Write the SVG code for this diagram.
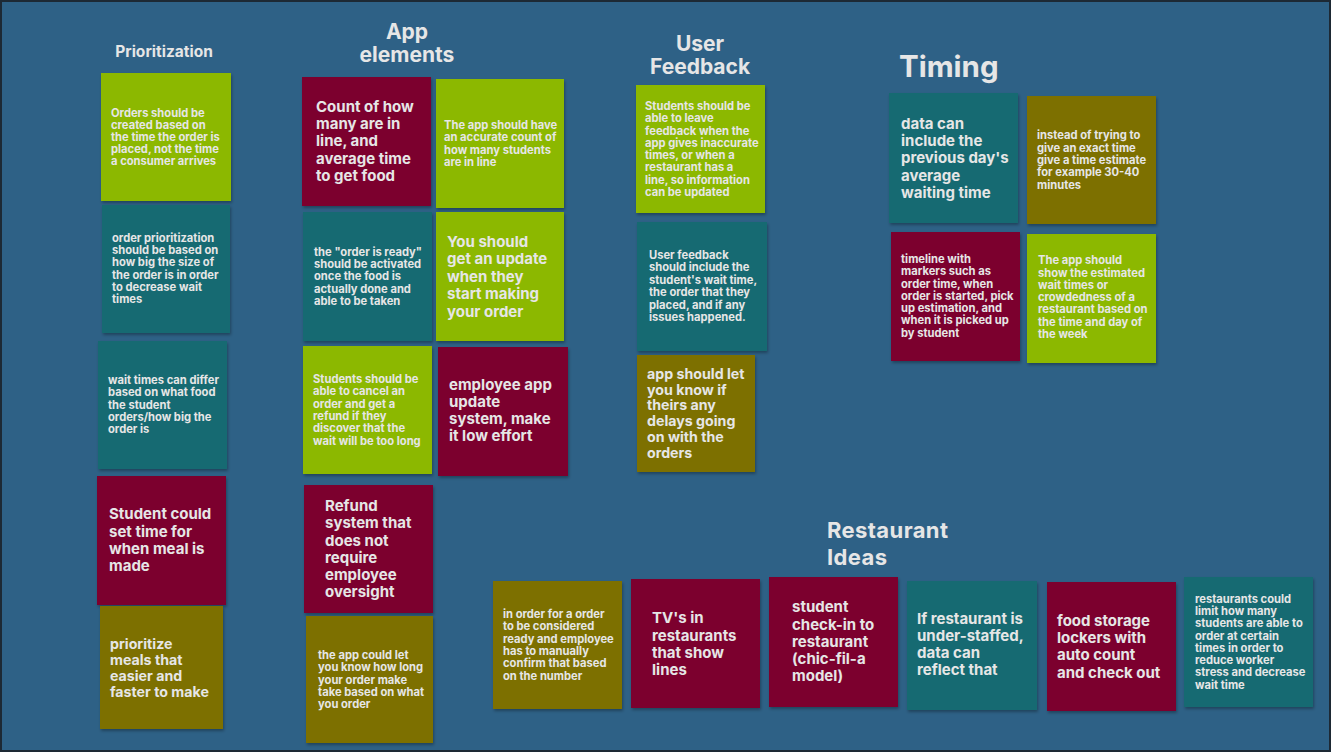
<svg xmlns="http://www.w3.org/2000/svg" width="1331" height="752" viewBox="0 0 1331 752">
<defs>
<filter id="sh" x="-10%" y="-10%" width="125%" height="125%">
<feDropShadow dx="1" dy="2" stdDeviation="1.6" flood-color="#000" flood-opacity="0.3"/>
</filter>
<style>
text{font-family:Inter,"Liberation Sans",sans-serif;font-weight:700;fill:#e6e6e6}
.g{fill:#8cb800}
.t{fill:#166a72}
.m{fill:#7b002e}
.o{fill:#7d7000}
rect.n{filter:url(#sh)}
.s{font-size:11.2px}
.l{font-size:15px}
.ttl{font-size:21px}
.ttc{text-anchor:middle}
</style>
</defs>
<rect x="0" y="0" width="1331" height="752" fill="#2e6186" stroke="#1d2934" stroke-width="4"/>
<g id="connectors"/>
<g id="titles">
<text class="ttc" x="164" y="57" style="font-size:15.5px">Prioritization</text>
<text class="ttl ttc"><tspan x="407" y="39">App</tspan><tspan x="407" y="62">elements</tspan></text>
<text class="ttl ttc"><tspan x="700" y="51">User</tspan><tspan x="700" y="74">Feedback</tspan></text>
<text x="899" y="77" style="font-size:29.5px">Timing</text>
<text class="ttl" style="font-size:22px;letter-spacing:0.4px"><tspan x="827" y="538">Restaurant</tspan><tspan x="827" y="565">Ideas</tspan></text>
</g>
<g id="n1"><rect class="n g" x="101" y="73" width="130" height="128"/>
<text class="s"><tspan x="111" y="117">Orders should be</tspan><tspan x="111" y="129">created based on</tspan><tspan x="111" y="141">the time the order is</tspan><tspan x="111" y="153">placed, not the time</tspan><tspan x="111" y="165">a consumer arrives</tspan></text></g>
<g id="n2"><rect class="n t" x="102" y="205" width="128" height="128"/>
<text class="s"><tspan x="112" y="242">order prioritization</tspan><tspan x="112" y="254">should be based on</tspan><tspan x="112" y="266">how big the size of</tspan><tspan x="112" y="279">the order is in order</tspan><tspan x="112" y="291">to decrease wait</tspan><tspan x="112" y="303">times</tspan></text></g>
<g id="n3"><rect class="n t" x="98" y="341" width="129" height="128"/>
<text class="s"><tspan x="108" y="384">wait times can differ</tspan><tspan x="108" y="396">based on what food</tspan><tspan x="108" y="409">the student</tspan><tspan x="108" y="421">orders/how big the</tspan><tspan x="108" y="433">order is</tspan></text></g>
<g id="n4"><rect class="n m" x="97" y="476" width="129" height="129"/>
<text class="l"><tspan x="109" y="519">Student could</tspan><tspan x="109" y="537">set time for</tspan><tspan x="109" y="554">when meal is</tspan><tspan x="109" y="571">made</tspan></text></g>
<g id="n5"><rect class="n o" x="100" y="606" width="123" height="123"/>
<text class="l" style="font-size:14.2px"><tspan x="110" y="649">prioritize</tspan><tspan x="110" y="665">meals that</tspan><tspan x="110" y="681">easier and</tspan><tspan x="110" y="697">faster to make</tspan></text></g>
<g id="n6"><rect class="n m" x="302" y="77" width="129" height="129"/>
<text class="l"><tspan x="316" y="112">Count of how</tspan><tspan x="316" y="129">many are in</tspan><tspan x="316" y="146">line, and</tspan><tspan x="316" y="164">average time</tspan><tspan x="316" y="181">to get food</tspan></text></g>
<g id="n7"><rect class="n g" x="436" y="79" width="128" height="129"/>
<text class="s"><tspan x="444" y="129">The app should have</tspan><tspan x="444" y="141">an accurate count of</tspan><tspan x="444" y="154">how many students</tspan><tspan x="444" y="166">are in line</tspan></text></g>
<g id="n8"><rect class="n t" x="303" y="212" width="129" height="129"/>
<text class="s"><tspan x="314" y="256">the "order is ready"</tspan><tspan x="314" y="268">should be activated</tspan><tspan x="314" y="280">once the food is</tspan><tspan x="314" y="293">actually done and</tspan><tspan x="314" y="305">able to be taken</tspan></text></g>
<g id="n9"><rect class="n g" x="436" y="212" width="128" height="129"/>
<text class="l"><tspan x="447" y="247">You should</tspan><tspan x="447" y="264">get an update</tspan><tspan x="447" y="282">when they</tspan><tspan x="447" y="299">start making</tspan><tspan x="447" y="317">your order</tspan></text></g>
<g id="n10"><rect class="n g" x="303" y="346" width="129" height="128"/>
<text class="s"><tspan x="313" y="383">Students should be</tspan><tspan x="313" y="395">able to cancel an</tspan><tspan x="313" y="408">order and get a</tspan><tspan x="313" y="420">refund if they</tspan><tspan x="313" y="432">discover that the</tspan><tspan x="313" y="445">wait will be too long</tspan></text></g>
<g id="n11"><rect class="n m" x="438" y="347" width="130" height="129"/>
<text class="l"><tspan x="449" y="390">employee app</tspan><tspan x="449" y="407">update</tspan><tspan x="449" y="424">system, make</tspan><tspan x="449" y="441">it low effort</tspan></text></g>
<g id="n12"><rect class="n m" x="304" y="485" width="129" height="128"/>
<text class="l"><tspan x="325" y="511">Refund</tspan><tspan x="325" y="528">system that</tspan><tspan x="325" y="546">does not</tspan><tspan x="325" y="563">require</tspan><tspan x="325" y="580">employee</tspan><tspan x="325" y="597">oversight</tspan></text></g>
<g id="n13"><rect class="n o" x="306" y="616" width="127" height="127"/>
<text class="s"><tspan x="318" y="659">the app could let</tspan><tspan x="318" y="671">you know how long</tspan><tspan x="318" y="684">your order make</tspan><tspan x="318" y="696">take based on what</tspan><tspan x="318" y="708">you order</tspan></text></g>
<g id="n14"><rect class="n g" x="636" y="85" width="129" height="128"/>
<text class="s"><tspan x="645" y="110">Students should be</tspan><tspan x="645" y="122">able to leave</tspan><tspan x="645" y="135">feedback when the</tspan><tspan x="645" y="147">app gives inaccurate</tspan><tspan x="645" y="159">times, or when a</tspan><tspan x="645" y="171">restaurant has a</tspan><tspan x="645" y="184">line, so information</tspan><tspan x="645" y="196">can be updated</tspan></text></g>
<g id="n15"><rect class="n t" x="637" y="222" width="130" height="129"/>
<text class="s"><tspan x="649" y="259">User feedback</tspan><tspan x="649" y="271">should include the</tspan><tspan x="649" y="284">student's wait time,</tspan><tspan x="649" y="296">the order that they</tspan><tspan x="649" y="309">placed, and if any</tspan><tspan x="649" y="321">issues happened.</tspan></text></g>
<g id="n16"><rect class="n o" x="637" y="355" width="118" height="117"/>
<text class="l" style="font-size:14.2px"><tspan x="647" y="379">app should let</tspan><tspan x="647" y="395">you know if</tspan><tspan x="647" y="410">theirs any</tspan><tspan x="647" y="426">delays going</tspan><tspan x="647" y="442">on with the</tspan><tspan x="647" y="458">orders</tspan></text></g>
<g id="n17"><rect class="n t" x="889" y="93" width="129" height="130"/>
<text class="l"><tspan x="901" y="129">data can</tspan><tspan x="901" y="146">include the</tspan><tspan x="901" y="163">previous day's</tspan><tspan x="901" y="181">average</tspan><tspan x="901" y="198">waiting time</tspan></text></g>
<g id="n18"><rect class="n o" x="1027" y="96" width="129" height="128"/>
<text class="s"><tspan x="1037" y="139">instead of trying to</tspan><tspan x="1037" y="152">give an exact time</tspan><tspan x="1037" y="164">give a time estimate</tspan><tspan x="1037" y="176">for example 30-40</tspan><tspan x="1037" y="189">minutes</tspan></text></g>
<g id="n19"><rect class="n m" x="891" y="232" width="129" height="129"/>
<text class="s"><tspan x="901" y="263">timeline with</tspan><tspan x="901" y="275">markers such as</tspan><tspan x="901" y="288">order time, when</tspan><tspan x="901" y="300">order is started, pick</tspan><tspan x="901" y="312">up estimation, and</tspan><tspan x="901" y="324">when it is picked up</tspan><tspan x="901" y="337">by student</tspan></text></g>
<g id="n20"><rect class="n g" x="1027" y="234" width="129" height="129"/>
<text class="s"><tspan x="1038" y="264">The app should</tspan><tspan x="1038" y="277">show the estimated</tspan><tspan x="1038" y="289">wait times or</tspan><tspan x="1038" y="301">crowdedness of a</tspan><tspan x="1038" y="313">restaurant based on</tspan><tspan x="1038" y="326">the time and day of</tspan><tspan x="1038" y="338">the week</tspan></text></g>
<g id="n21"><rect class="n o" x="493" y="581" width="129" height="128"/>
<text class="s"><tspan x="503" y="618">in order for a order</tspan><tspan x="503" y="630">to be considered</tspan><tspan x="503" y="643">ready and employee</tspan><tspan x="503" y="655">has to manually</tspan><tspan x="503" y="667">confirm that based</tspan><tspan x="503" y="680">on the number</tspan></text></g>
<g id="n22"><rect class="n m" x="631" y="579" width="129" height="129"/>
<text class="l"><tspan x="652" y="623">TV's in</tspan><tspan x="652" y="641">restaurants</tspan><tspan x="652" y="658">that show</tspan><tspan x="652" y="675">lines</tspan></text></g>
<g id="n23"><rect class="n m" x="769" y="577" width="129" height="130"/>
<text class="l"><tspan x="792" y="612">student</tspan><tspan x="792" y="630">check-in to</tspan><tspan x="792" y="647">restaurant</tspan><tspan x="792" y="664">(chic-fil-a</tspan><tspan x="792" y="681">model)</tspan></text></g>
<g id="n24"><rect class="n t" x="907" y="581" width="130" height="129"/>
<text class="l"><tspan x="917" y="624">If restaurant is</tspan><tspan x="917" y="641">under-staffed,</tspan><tspan x="917" y="658">data can</tspan><tspan x="917" y="675">reflect that</tspan></text></g>
<g id="n25"><rect class="n m" x="1047" y="582" width="129" height="129"/>
<text class="l"><tspan x="1057" y="626">food storage</tspan><tspan x="1057" y="643">lockers with</tspan><tspan x="1057" y="660">auto count</tspan><tspan x="1057" y="678">and check out</tspan></text></g>
<g id="n26"><rect class="n t" x="1184" y="577" width="129" height="130"/>
<text class="s"><tspan x="1195" y="603">restaurants could</tspan><tspan x="1195" y="615">limit how many</tspan><tspan x="1195" y="627">students are able to</tspan><tspan x="1195" y="640">order at certain</tspan><tspan x="1195" y="652">times in order to</tspan><tspan x="1195" y="664">reduce worker</tspan><tspan x="1195" y="676">stress and decrease</tspan><tspan x="1195" y="689">wait time</tspan></text></g>
</svg>
